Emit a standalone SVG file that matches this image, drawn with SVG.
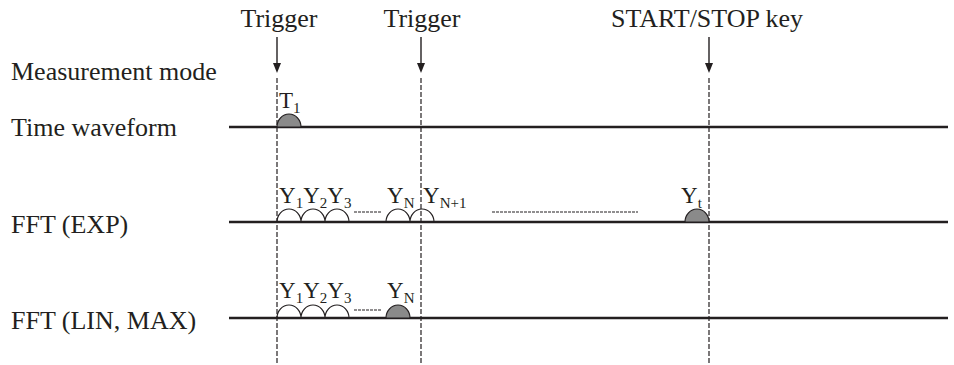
<svg xmlns="http://www.w3.org/2000/svg" width="954" height="365" viewBox="0 0 954 365">
<style>
text{font-family:"Liberation Serif","Times New Roman",serif;fill:#231f20}
.lbl{font-size:26px}
.sm{font-size:23px}
.sub{font-size:15px}
.axis{stroke:#231f20;stroke-width:2.4;fill:none}
.vd{stroke:#231f20;stroke-width:1.2;stroke-dasharray:5 2;fill:none}
.arr{stroke:#231f20;stroke-width:1.4;fill:none}
.hump{stroke:#231f20;stroke-width:1.2;fill:none}
.humpf{stroke:#231f20;stroke-width:1.2;fill:#8a8a8a}
.dl{stroke:#231f20;stroke-width:1.1;stroke-dasharray:3 1;fill:none}
</style>
<g id="row-labels">
<text class="lbl" x="11" y="80">Measurement mode</text>
<text class="lbl" x="11" y="136">Time waveform</text>
<text class="lbl" x="11" y="233">FFT (EXP)</text>
<text class="lbl" x="11" y="329">FFT (LIN, MAX)</text>
</g>
<g id="axes">
<line class="axis" x1="229" y1="127" x2="948" y2="127"/>
<line class="axis" x1="229" y1="222" x2="948" y2="222"/>
<line class="axis" x1="229" y1="318" x2="948" y2="318"/>
</g>
<g id="trigger1">
<text class="lbl" x="279" y="27" text-anchor="middle">Trigger</text>
</g>
<g id="trigger2">
<text class="lbl" x="422" y="27" text-anchor="middle">Trigger</text>
</g>
<g id="startstop">
<text class="lbl" x="707" y="27" text-anchor="middle">START/STOP key</text>
</g>
<g id="connectors">
<line class="arr" x1="277" y1="37" x2="277" y2="64"/>
<path d="M273,63 L281,63 L277,73 Z" fill="#231f20"/>
<line class="arr" x1="421" y1="37" x2="421" y2="64"/>
<path d="M417,63 L425,63 L421,73 Z" fill="#231f20"/>
<line class="arr" x1="709" y1="37" x2="709" y2="64"/>
<path d="M705,63 L713,63 L709,73 Z" fill="#231f20"/>
<line class="vd" x1="277" y1="78" x2="277" y2="365"/>
<line class="vd" x1="421" y1="78" x2="421" y2="365"/>
<line class="vd" x1="709" y1="78" x2="709" y2="365"/>
</g>
<g id="time-waveform">
<path class="humpf" d="M277,127 A12,13 0 0 1 301,127 Z"/>
<text class="sm" x="279" y="108">T<tspan class="sub" dy="5">1</tspan></text>
</g>
<g id="fft-exp">
<path class="hump" d="M277,222 A12,13 0 0 1 301,222 A12,13 0 0 1 325,222 A12,13 0 0 1 349,222"/>
<line class="dl" x1="354" y1="212" x2="381" y2="212"/>
<path class="hump" d="M386,222 A12,13 0 0 1 410,222 A12,13 0 0 1 434,222"/>
<line class="dl" x1="492" y1="212" x2="638" y2="212"/>
<path class="humpf" d="M685,222 A12,13 0 0 1 709,222 Z"/>
<text class="sm" x="279" y="203">Y<tspan class="sub" dy="5">1</tspan><tspan dy="-5">Y</tspan><tspan class="sub" dy="5">2</tspan><tspan dy="-5">Y</tspan><tspan class="sub" dy="5">3</tspan></text>
<text class="sm" x="387" y="203">Y<tspan class="sub" dy="5">N</tspan></text>
<text class="sm" x="423" y="203">Y<tspan class="sub" dy="5">N+1</tspan></text>
<text class="sm" x="681" y="203">Y<tspan class="sub" dy="5">t</tspan></text>
</g>
<g id="fft-lin-max">
<path class="hump" d="M277,318 A12,13 0 0 1 301,318 A12,13 0 0 1 325,318 A12,13 0 0 1 349,318"/>
<line class="dl" x1="354" y1="310" x2="381" y2="310"/>
<path class="humpf" d="M386,318 A12,13 0 0 1 410,318 Z"/>
<text class="sm" x="279" y="298">Y<tspan class="sub" dy="5">1</tspan><tspan dy="-5">Y</tspan><tspan class="sub" dy="5">2</tspan><tspan dy="-5">Y</tspan><tspan class="sub" dy="5">3</tspan></text>
<text class="sm" x="387" y="298">Y<tspan class="sub" dy="5">N</tspan></text>
</g>
</svg>
